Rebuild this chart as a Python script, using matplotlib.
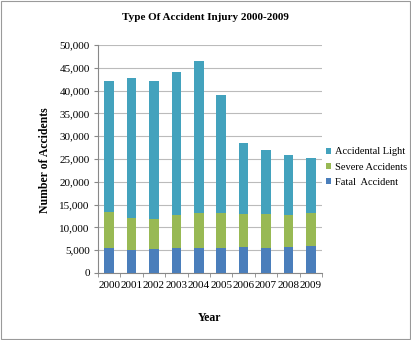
import matplotlib
matplotlib.use("Agg")
import matplotlib.pyplot as plt
from matplotlib.patches import Rectangle
import numpy as np

years = ["2000", "2001", "2002", "2003", "2004", "2005", "2006", "2007", "2008", "2009"]
fatal = [5400, 5100, 5300, 5500, 5500, 5500, 5700, 5500, 5800, 6000]
severe_top = [13400, 12100, 11900, 12700, 13100, 13100, 13000, 13000, 12800, 13100]
totals = [42200, 42800, 42200, 44100, 46400, 39100, 28600, 27000, 25800, 25300]
severe = [s - f for s, f in zip(severe_top, fatal)]
light = [t - s for t, s in zip(totals, severe_top)]

c_fatal = "#4A7EBB"
c_severe = "#98B954"
c_light = "#43A2BD"

plt.rcParams['font.family'] = ['Liberation Serif', 'DejaVu Serif']

fig = plt.figure(figsize=(4.11, 3.40), dpi=100)
fig.patches.append(Rectangle((0.003, 0.003), 0.994, 0.994, transform=fig.transFigure,
                             fill=False, edgecolor="#9a9a9a", linewidth=0.8))
ax = fig.add_axes([98 / 411, 1 - 273 / 340, (322 - 98) / 411, (273 - 45) / 340])

x = np.arange(len(years))
w = 0.42
ax.bar(x, fatal, w, color=c_fatal, label="Fatal  Accident", zorder=3)
ax.bar(x, severe, w, bottom=fatal, color=c_severe, label="Severe Accidents", zorder=3)
ax.bar(x, light, w, bottom=severe_top, color=c_light, label="Accidental Light", zorder=3)

ax.set_xlim(-0.5, len(years) - 0.5)
ax.set_ylim(0, 50000)
ax.set_yticks(np.arange(0, 50001, 5000))
ax.set_yticklabels([f"{v:,}" for v in range(0, 50001, 5000)], fontsize=8)
ax.set_xticks(x)
ax.set_xticklabels(years, fontsize=8)
ax.set_xticks(np.arange(-0.5, len(years), 1), minor=True)
ax.tick_params(axis='x', which='major', length=0, pad=6)
ax.tick_params(axis='x', which='minor', length=3, color="#888888")
ax.tick_params(axis='y', length=3, color="#888888", pad=3)
ax.grid(axis='y', color="#bbbbbb", linewidth=0.8, zorder=0)
for s in ["top", "right"]:
    ax.spines[s].set_visible(False)
ax.spines["left"].set_color("#888888")
ax.spines["bottom"].set_color("#888888")

fig.text(205 / 411, 1 - 17 / 340, "Type Of Accident Injury 2000-2009", ha="center", va="center",
         fontsize=8, fontweight="bold")
fig.text(45 / 411, 1 - 160 / 340, "Number of Accidents", ha="center", va="center",
         rotation=90, fontsize=8.5, fontweight="bold")
fig.text(210 / 411, 1 - 318 / 340, "Year", ha="center", va="center",
         fontsize=8.5, fontweight="bold")

handles, labels = ax.get_legend_handles_labels()
leg = fig.legend(handles[::-1], labels[::-1], loc="center left",
                 bbox_to_anchor=(322 / 411, 1 - 167 / 340), frameon=False,
                 fontsize=7.5, handlelength=0.5, handleheight=0.5, handletextpad=0.3,
                 labelspacing=0.6, borderaxespad=0)

fig.savefig("out.png", dpi=100)
